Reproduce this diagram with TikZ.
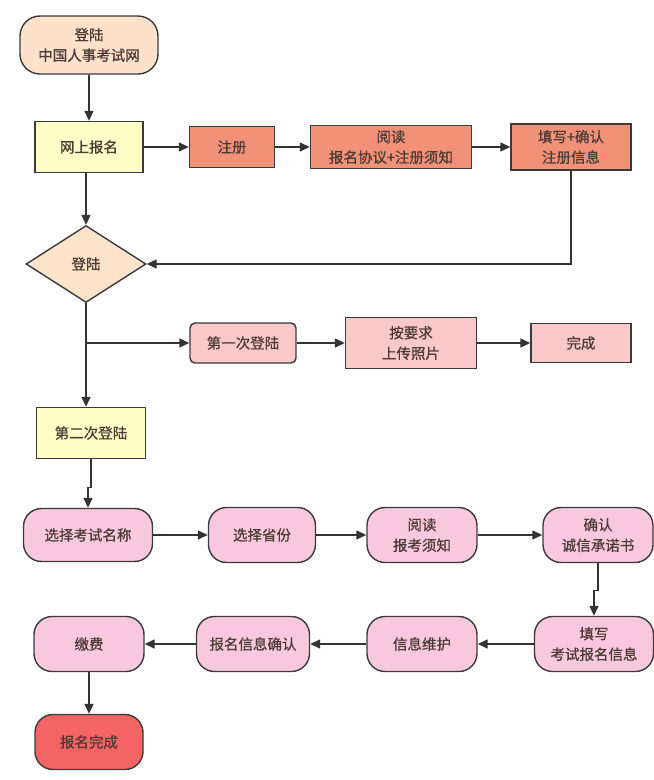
\documentclass[tikz,border=0pt]{standalone}
\usepackage{fontspec}
\setmainfont{Noto Sans CJK SC}[FakeBold=0.8]
\usetikzlibrary{shapes.geometric,arrows.meta}
\definecolor{peach}{HTML}{FDE1CB}
\definecolor{dpeach}{HTML}{FCE3C9}
\definecolor{lyellow}{HTML}{FEFEC6}
\definecolor{salmon}{HTML}{F19177}
\definecolor{lpink}{HTML}{F9C9C9}
\definecolor{rpink}{HTML}{F8C9DE}
\definecolor{redend}{HTML}{F46464}
\definecolor{tx}{HTML}{4D3B35}
\definecolor{bd}{HTML}{3A3A3A}
\definecolor{ln}{HTML}{333333}
\begin{document}
\begin{tikzpicture}[x=1pt,y=-1pt,
  box/.style={draw=bd, line width=1.4pt, text=tx, align=center, inner sep=0pt,
    font=\fontsize{14.5}{20.5}\selectfont},
  stad/.style={box, rounded corners=18pt},
  rbox/.style={box, rounded corners=5pt},
  arr/.style={draw=ln, line width=1.4pt, -{Triangle[length=10pt,width=9pt]}},
]
\useasboundingbox[fill=white] (0,0) rectangle (654,780);

% top part
\node[stad, fill=peach, rounded corners=20pt, minimum width=138pt, minimum height=58pt] (start) at (89,45) {登陆\\中国人事考试网};
\node[box, fill=lyellow, minimum width=108pt, minimum height=51pt] (online) at (89,147) {网上报名};
\node[box, fill=salmon, minimum width=85pt, minimum height=41pt] (reg) at (232,147) {注册};
\node[box, fill=salmon, minimum width=161pt, minimum height=43pt] (read) at (391,147) {阅读\\报名协议+注册须知};
\node[box, fill=salmon, minimum width=120pt, minimum height=46pt] (fill) at (571,147) {填写+确认\\注册信息};
\node[diamond, draw=bd, line width=1.4pt, fill=dpeach, text=tx, inner sep=0pt,
  minimum width=120pt, minimum height=77pt, font=\fontsize{14.5}{20.5}\selectfont] (login) at (86,264) {登陆};

% first login
\node[rbox, fill=lpink, minimum width=106pt, minimum height=40pt] (first) at (243,343) {第一次登陆};
\node[box, fill=lpink, minimum width=131pt, minimum height=51pt] (upload) at (411,343) {按要求\\上传照片};
\node[box, fill=lpink, minimum width=100pt, minimum height=39pt] (done1) at (581,343) {完成};
\node[box, fill=lyellow, minimum width=109pt, minimum height=51pt] (second) at (91,433) {第二次登陆};

% second login flow
\node[stad, fill=rpink, minimum width=129pt, minimum height=53pt] (exam) at (88,535) {选择考试名称};
\node[stad, fill=rpink, minimum width=107pt, minimum height=55pt] (prov) at (262,535) {选择省份};
\node[stad, fill=rpink, minimum width=110pt, minimum height=55pt] (notice) at (422,535) {阅读\\报考须知};
\node[stad, fill=rpink, minimum width=110pt, minimum height=55pt] (promise) at (598,535) {确认\\诚信承诺书};
\node[stad, fill=rpink, minimum width=119pt, minimum height=55pt] (info) at (594,644) {填写\\考试报名信息};
\node[stad, fill=rpink, minimum width=110pt, minimum height=55pt] (maint) at (422,644) {信息维护};
\node[stad, fill=rpink, minimum width=113pt, minimum height=55pt] (conf) at (253,644) {报名信息确认};
\node[stad, fill=rpink, minimum width=110pt, minimum height=55pt] (pay) at (89,644) {缴费};
\node[stad, fill=redend, minimum width=108pt, minimum height=55pt] (end) at (89,742) {报名完成};

% connectors
\draw[arr] (start) -- (online);
\draw[arr] (online) -- (reg);
\draw[arr] (reg) -- (read);
\draw[arr] (read) -- (fill);
\draw[arr] (online.south -| login.north) -- (login.north);
\draw[arr] (fill.south) |- (login.east);
\draw[arr] (login.south) -- (login.south |- second.north);
\coordinate (br) at (login.south |- first.west);
\draw[arr] (br) -- (first.west);
\draw[arr] (first) -- (upload);
\draw[arr] (upload) -- (done1);
\draw[arr] (second.south) -- ++(0,28) -| (exam.north);
\draw[arr] (exam) -- (prov);
\draw[arr] (prov) -- (notice);
\draw[arr] (notice) -- (promise);
\draw[arr] (promise.south) -- ++(0,27) -| (info.north);
\draw[arr] (info) -- (maint);
\draw[arr] (maint) -- (conf);
\draw[arr] (conf) -- (pay);
\draw[arr] (pay) -- (end);
\end{tikzpicture}
\end{document}
